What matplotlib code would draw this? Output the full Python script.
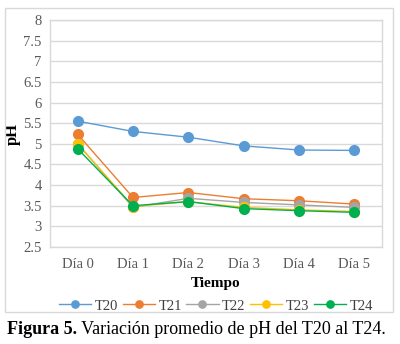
import matplotlib.pyplot as plt
from matplotlib.patches import Rectangle

# Data
dias = ["Día 0", "Día 1", "Día 2", "Día 3", "Día 4", "Día 5"]
t20 = [5.55, 5.30, 5.16, 4.95, 4.85, 4.84]
t21 = [5.23, 3.70, 3.82, 3.67, 3.62, 3.54]
t22 = [5.00, 3.46, 3.68, 3.58, 3.52, 3.46]
t23 = [5.00, 3.48, 3.60, 3.46, 3.40, 3.36]
t24 = [4.88, 3.50, 3.60, 3.43, 3.38, 3.34]

series = [("T20", t20, "#5B9BD5"), ("T21", t21, "#ED7D31"), ("T22", t22, "#A5A5A5"),
          ("T23", t23, "#FFC000"), ("T24", t24, "#00B050")]

plt.rcParams["font.family"] = "Liberation Serif"

fig = plt.figure(figsize=(4, 3.44), dpi=100)
ax = fig.add_axes([50 / 400, 1 - 247 / 344, 332 / 400, 227 / 344])

x = list(range(len(dias)))
for name, vals, col in series:
    ax.plot(x, vals, color=col, lw=1, marker="o", ms=7, label=name, zorder=3)

ax.set_xlim(-0.5, len(dias) - 0.5)
ax.set_ylim(2.5, 8)
ax.set_yticks([2.5, 3, 3.5, 4, 4.5, 5, 5.5, 6, 6.5, 7, 7.5, 8])
ax.set_yticklabels(["2.5", "3", "3.5", "4", "4.5", "5", "5.5", "6", "6.5", "7", "7.5", "8"])
ax.set_xticks(x)
ax.set_xticklabels(dias)
ax.grid(axis="y", color="#D9D9D9", lw=1)
ax.set_axisbelow(True)
for s in ax.spines.values():
    s.set_color("#D9D9D9")
    s.set_linewidth(1)
ax.tick_params(length=0, labelsize=10.5, colors="#595959", pad=8)
ax.tick_params(axis="y", pad=6)
ax.set_ylabel("pH", fontsize=12, fontweight="bold", labelpad=2)
ax.set_xlabel("Tiempo", fontsize=11, fontweight="bold", labelpad=4)

ax.legend(loc="upper center", bbox_to_anchor=(0.5, -0.205), ncol=5, frameon=False,
          fontsize=10.5, handlelength=2.2, columnspacing=0.3, handletextpad=0.25,
          borderaxespad=0, markerscale=0.75, labelcolor="#404040")

# outer chart border
fig.patches.append(Rectangle((5 / 400, 1 - 312 / 344), 388 / 400, 304 / 344,
                             transform=fig.transFigure, fill=False,
                             edgecolor="#D9D9D9", lw=1))

cap1 = fig.text(7 / 400, 1 - 329 / 344, "Figura 5.", fontsize=13, fontweight="bold", va="center")
fig.canvas.draw()
bb = cap1.get_window_extent().transformed(fig.transFigure.inverted())
fig.text(bb.x1, 1 - 329 / 344, " Variación promedio de pH del T20 al T24.",
         fontsize=13, va="center")

fig.savefig("out.png", dpi=100)
